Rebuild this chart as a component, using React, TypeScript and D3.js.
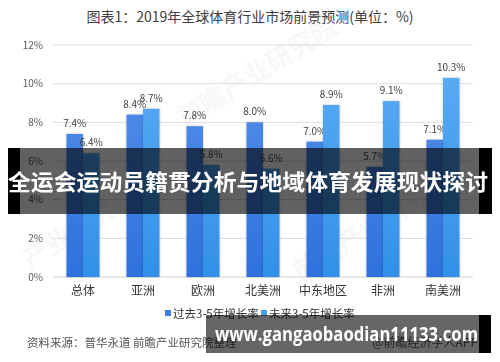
import React from "react";
import * as d3 from "d3";

const categories = ["总体", "亚洲", "欧洲", "北美洲", "中东地区", "非洲", "南美洲"];
const pastGrowth = [7.4, 8.4, 7.8, 8.0, 7.0, 5.7, 7.1];
const futureGrowth = [6.4, 8.7, 5.8, 5.6, 8.9, 9.1, 10.3];
const seriesNames = ["过去3-5年增长率", "未来3-5年增长率"];
const yTicks = [0, 2, 4, 6, 8, 10, 12];

const FONT = "'Noto Sans CJK SC', 'Noto Sans', sans-serif";

const App = () => {
  const W = 500;
  const H = 362;
  const plot = { left: 53, right: 473, top: 45, bottom: 277 };

  const x = d3
    .scaleBand<string>()
    .domain(categories)
    .range([plot.left + 13.5, plot.right - 13.5])
    .paddingInner(0.45)
    .paddingOuter(0);

  const inner = d3
    .scaleBand<number>()
    .domain([0, 1])
    .range([0, x.bandwidth()])
    .padding(0);

  const y = d3.scaleLinear().domain([0, 12]).range([plot.bottom, plot.top]);

  const series = [pastGrowth, futureGrowth];
  const fills = ["url(#gPast)", "url(#gFuture)"];
  const legendColors = ["#3f7fe2", "#44a0f0"];

  return (
    <svg
      width={W}
      height={H}
      style={{ position: "absolute", left: 0, top: 0, background: "#fff" }}
      fontFamily={FONT}
    >
      <defs>
        <linearGradient id="gPast" gradientUnits="userSpaceOnUse" x1="0" y1={plot.top} x2="0" y2={plot.bottom}>
          <stop offset="0" stopColor="#5b93ea" />
          <stop offset="1" stopColor="#2d71dc" />
        </linearGradient>
        <linearGradient id="gFuture" gradientUnits="userSpaceOnUse" x1="0" y1={plot.top} x2="0" y2={plot.bottom}>
          <stop offset="0" stopColor="#5eaef5" />
          <stop offset="1" stopColor="#3290e8" />
        </linearGradient>
        <filter id="shadow" x="-20%" y="-5%" width="140%" height="110%">
          <feDropShadow dx="0" dy="0" stdDeviation="1" floodColor="#000" floodOpacity="0.25" />
        </filter>
      </defs>

      <rect width={W} height={H} fill="#fff" />

      {/* title */}
      <text x={250} y={22} textAnchor="middle" fontSize={14} fill="#404040">
        图表1：2019年全球体育行业市场前景预测(单位：%)
      </text>

      {/* watermarks */}
      <g fill="#000" opacity={0.035} fontWeight="bold" fontSize={26}>
        <text transform="translate(185,128) rotate(-32)">前瞻产业研究院</text>
        <text transform="translate(30,270) rotate(-32)">产业研究院</text>
        <text transform="translate(300,282) rotate(-32)">前瞻产业研究</text>
      </g>

      {/* grid + y axis */}
      {yTicks.map((t) => (
        <g key={t}>
          <line x1={plot.left} x2={plot.right} y1={y(t)} y2={y(t)} stroke={t === 0 ? "#d0d0d0" : "#dcdcdc"} strokeWidth={1} />
          <text x={43} y={y(t) + 3.5} textAnchor="end" fontSize={10} fill="#595959">
            {t}%
          </text>
        </g>
      ))}

      {/* bars */}
      {categories.map((c, i) => (
        <g key={c} transform={`translate(${x(c)},0)`}>
          {series.map((s, k) => (
            <g key={k}>
              <rect
                x={inner(k)}
                y={y(s[i])}
                width={inner.bandwidth()}
                height={y(0) - y(s[i])}
                fill={fills[k]}
                filter="url(#shadow)"
              />
              <text
                x={(inner(k) ?? 0) + inner.bandwidth() / 2}
                y={y(s[i]) - 7}
                textAnchor="middle"
                fontSize={10}
                fill="#404040"
              >
                {s[i].toFixed(1)}%
              </text>
            </g>
          ))}
          <text x={x.bandwidth() / 2} y={295} textAnchor="middle" fontSize={12} fill="#333">
            {c}
          </text>
        </g>
      ))}

      {/* legend */}
      {seriesNames.map((n, k) => (
        <g key={n} transform={`translate(${165 + k * 96},0)`}>
          <rect x={0} y={310} width={6} height={6} fill={legendColors[k]} />
          <text x={8} y={317.5} fontSize={11.5} fill="#333">
            {n}
          </text>
        </g>
      ))}

      {/* source */}
      <text x={27} y={347} fontSize={11.5} fill="#555">
        资料来源：普华永道 前瞻产业研究院整理
      </text>
      <text x={478} y={347} textAnchor="end" fontSize={12} fill="#555">
        @前瞻经济学人APP
      </text>

      {/* top overlay banner */}
      <rect x={8} y={148} width={484} height={66} fill="rgba(0,0,0,0.62)" />
      <rect x={8} y={148} width={12} height={66} fill="#000" />
      <rect x={479} y={148} width={13} height={66} fill="#000" />
      <text
        x={8}
        y={190}
        fontSize={22}
        fontWeight="bold"
        fill="#fff"
        textLength={480}
        lengthAdjust="spacingAndGlyphs"
      >
        全运会运动员籍贯分析与地域体育发展现状探讨
      </text>

      {/* bottom overlay banner */}
      <rect x={206} y={315} width={285} height={38} fill="rgba(0,0,0,0.6)" />
      <rect x={479} y={315} width={12} height={38} fill="#000" />
      <text
        x={215}
        y={341}
        fontSize={19}
        fontWeight="bold"
        fill="#fff"
        fontFamily="'Open Sans', 'Liberation Sans', sans-serif"
        textLength={263}
        lengthAdjust="spacingAndGlyphs"
      >
        www.gangaobaodian11133.com
      </text>
    </svg>
  );
};

export default App;
